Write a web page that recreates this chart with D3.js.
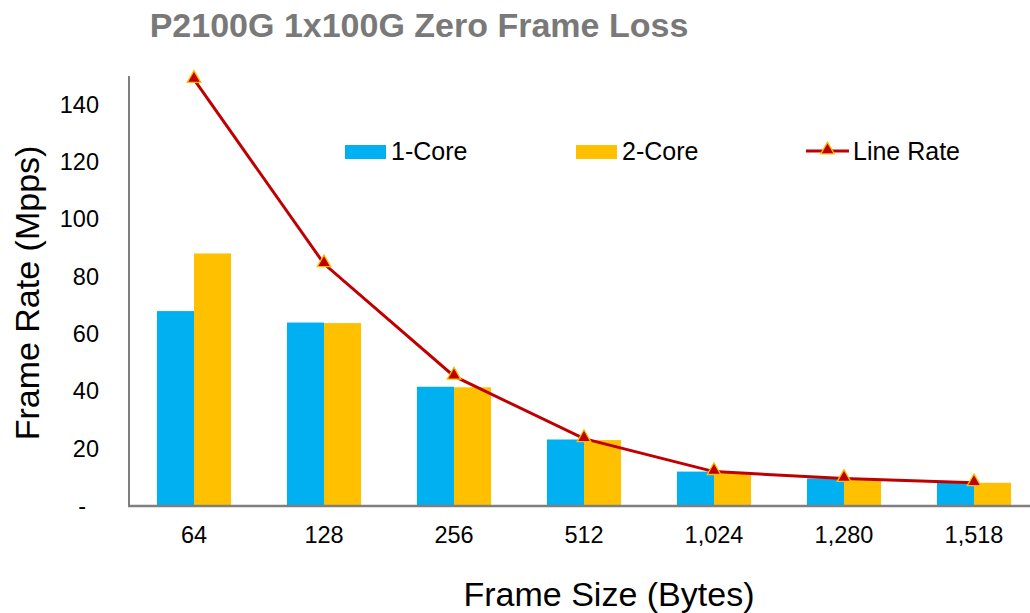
<!DOCTYPE html>
<html>
<head>
<meta charset="utf-8">
<script src="https://cdn.jsdelivr.net/npm/d3@7"></script>
<style>
  html, body { margin: 0; padding: 0; background: #fff; }
  svg { display: block; font-family: "Liberation Sans", Arial, sans-serif; }
</style>
</head>
<body>
<svg id="chart" width="1030" height="613"></svg>
<script>
const categories = ["64", "128", "256", "512", "1,024", "1,280", "1,518"];
const oneCore = [68.0, 64.0, 41.6, 23.2, 12.0, 9.6, 8.1];
const twoCore = [88.1, 63.8, 41.4, 23.0, 11.9, 9.4, 8.1];
const lineRate = [148.8, 84.5, 45.3, 23.5, 12.0, 9.6, 8.1];
const yTicks = [0, 20, 40, 60, 80, 100, 120, 140];
const seriesNames = ["1-Core", "2-Core"];
const seriesColors = ["#00B0F0", "#FFC000"];

const svg = d3.select("#chart");

const x0 = d3.scaleBand().domain(categories).range([129, 1039])
  .paddingInner(0.43).paddingOuter(0.215);
const x1 = d3.scaleBand().domain(seriesNames).range([0, x0.bandwidth()]);
const y = d3.scaleLinear().domain([0, 150]).range([506, 76]);

// Title
svg.append("text").attr("x", 419).attr("y", 37).attr("text-anchor", "middle")
  .attr("font-size", 34).attr("font-weight", "bold").attr("fill", "#797979")
  .text("P2100G 1x100G Zero Frame Loss");

// Bars
const data = categories.map((c, i) => ({ c, vals: [oneCore[i], twoCore[i]] }));
const groups = svg.append("g").selectAll("g").data(data).join("g")
  .attr("transform", d => `translate(${x0(d.c)},0)`);
groups.selectAll("rect").data(d => d.vals.map((v, j) => ({ v, s: seriesNames[j], j })))
  .join("rect")
  .attr("x", d => x1(d.s)).attr("width", x1.bandwidth())
  .attr("y", d => y(d.v)).attr("height", d => y(0) - y(d.v))
  .attr("fill", d => seriesColors[d.j]);

// Axes
const yAxis = d3.axisLeft(y).tickValues(yTicks).tickSize(0).tickPadding(30)
  .tickFormat(d => d === 0 ? "-" : d3.format("d")(d));
const yg = svg.append("g").attr("transform", "translate(129,0)").call(yAxis);
yg.select(".domain").remove();
yg.selectAll("text").attr("font-size", 23.5).attr("fill", "#000")
  .attr("font-family", "Liberation Sans, Arial, sans-serif")
  .attr("dx", d => d === 0 ? -13 : 0);
svg.append("line").attr("x1", 129).attr("x2", 129).attr("y1", 76).attr("y2", y(0))
  .attr("stroke", "#7f7f7f").attr("stroke-width", 2);

const xAxis = d3.axisBottom(x0).tickSize(0).tickPadding(20);
const xg = svg.append("g").attr("transform", `translate(0,${y(0)})`).call(xAxis);
xg.select(".domain").remove();
xg.selectAll("text").attr("font-size", 23.5).attr("fill", "#000")
  .attr("font-family", "Liberation Sans, Arial, sans-serif");
svg.append("line").attr("x1", 128).attr("x2", 1030).attr("y1", y(0)).attr("y2", y(0))
  .attr("stroke", "#7f7f7f").attr("stroke-width", 2.5);

// Line rate
const cx = c => x0(c) + x0.bandwidth() / 2;
const line = d3.line().x((d, i) => cx(categories[i])).y(d => y(d));
svg.append("path").datum(lineRate).attr("d", line)
  .attr("fill", "none").attr("stroke", "#C00000").attr("stroke-width", 3);
const tri = d3.symbol().type(d3.symbolTriangle).size(80);
svg.append("g").selectAll("path").data(lineRate).join("path")
  .attr("d", tri)
  .attr("transform", (d, i) => `translate(${cx(categories[i])},${y(d) - 1})`)
  .attr("fill", "#C00000").attr("stroke", "#FFC000").attr("stroke-width", 1.3);

// Axis labels
svg.append("text").attr("x", 609).attr("y", 606).attr("text-anchor", "middle")
  .attr("font-size", 34).attr("fill", "#000").text("Frame Size (Bytes)");
svg.append("text").attr("transform", "translate(39,293) rotate(-90)")
  .attr("text-anchor", "middle").attr("font-size", 34).attr("fill", "#000")
  .text("Frame Rate (Mpps)");

// Legend
const legend = svg.append("g").attr("font-size", 25);
const legItems = [
  { name: "1-Core", x: 345, type: "bar", color: seriesColors[0] },
  { name: "2-Core", x: 576, type: "bar", color: seriesColors[1] },
  { name: "Line Rate", x: 806, type: "line", color: "#C00000" }
];
legItems.forEach(it => {
  if (it.type === "bar") {
    legend.append("rect").attr("x", it.x).attr("y", 145).attr("width", 41).attr("height", 14)
      .attr("fill", it.color);
  } else {
    legend.append("line").attr("x1", it.x).attr("x2", it.x + 43).attr("y1", 151).attr("y2", 151)
      .attr("stroke", it.color).attr("stroke-width", 3);
    legend.append("path").attr("d", tri).attr("transform", `translate(${it.x + 21.5},150)`)
      .attr("fill", "#C00000").attr("stroke", "#FFC000").attr("stroke-width", 1.3);
  }
  legend.append("text").attr("x", it.x + (it.type === "bar" ? 46 : 47)).attr("y", 160)
    .attr("fill", "#000").text(it.name);
});
</script>
</body>
</html>
